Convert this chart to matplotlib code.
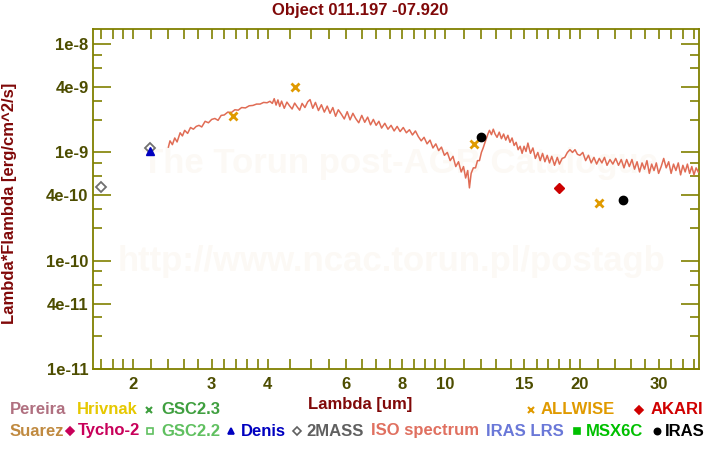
import numpy as np
import matplotlib
matplotlib.use("Agg")
import matplotlib.pyplot as plt
from matplotlib.lines import Line2D

plt.rcParams['font.family'] = ['Liberation Sans', 'DejaVu Sans']
plt.rcParams['font.weight'] = 'bold'

title = "Object 011.197 -07.920"

# ISO spectrum: wavelength [um], Lambda*Flambda [1e-9 erg/cm^2/s]
iso_wl = [2.40, 2.42, 2.45, 2.48, 2.51, 2.55, 2.58, 2.61, 2.65, 2.69,
          2.73, 2.77, 2.81, 2.85, 2.90, 2.95, 3.00, 3.05, 3.10, 3.15,
          3.20, 3.26, 3.32, 3.38, 3.44, 3.50, 3.57, 3.64, 3.71, 3.78,
          3.85, 3.92, 3.99, 4.05, 4.10, 4.14, 4.18, 4.22, 4.26, 4.30,
          4.36, 4.42, 4.48, 4.54, 4.60, 4.66, 4.72, 4.78, 4.85, 4.92,
          4.98, 5.05, 5.12, 5.20, 5.28, 5.36, 5.44, 5.52, 5.60, 5.68,
          5.76, 5.85, 5.94, 6.03, 6.12, 6.21, 6.30, 6.40, 6.50, 6.60,
          6.70, 6.80, 6.90, 7.00, 7.10, 7.20, 7.32, 7.44, 7.56, 7.68,
          7.80, 7.92, 8.05, 8.18, 8.31, 8.44, 8.57,
          8.70, 8.83, 8.96, 9.10, 9.24, 9.38, 9.52, 9.66, 9.80, 9.95,
          10.10, 10.25, 10.40, 10.55, 10.70, 10.85, 10.98, 11.10, 11.22, 11.32,
          11.42, 11.55, 11.68, 11.80, 11.92, 12.04, 12.15, 12.25, 12.35, 12.45,
          12.55, 12.68, 12.80, 12.92, 13.05, 13.20, 13.35, 13.50, 13.65, 13.80,
          13.95, 14.10, 14.25, 14.40, 14.55, 14.70, 14.85, 15.00, 15.15, 15.30,
          15.50, 15.70, 15.90, 16.10, 16.30, 16.50, 16.70, 16.90, 17.10, 17.30,
          17.55, 17.80, 18.00, 18.25, 18.50, 18.75, 19.00, 19.25, 19.50, 19.75,
          20.00, 20.30, 20.60, 20.90, 21.20, 21.50, 21.80, 22.10, 22.40, 22.70,
          23.00, 23.35, 23.70, 24.05, 24.40, 24.75, 25.10, 25.45, 25.80, 26.15,
          26.50, 26.85, 27.20, 27.55, 27.90, 28.25, 28.60, 28.95, 29.30, 29.65,
          30.00, 30.40, 30.80, 31.20, 31.60, 32.00, 32.40, 32.80, 33.20, 33.60,
          34.00, 34.40, 34.80, 35.20, 35.60, 36.00, 36.40, 36.80]
iso_flux = [1.12, 1.28, 1.18, 1.36, 1.25, 1.52, 1.42, 1.60, 1.50, 1.70,
            1.64, 1.74, 1.78, 1.72, 1.94, 1.88, 2.02, 2.06, 1.98, 2.20,
            2.22, 2.36, 2.34, 2.48, 2.46, 2.60, 2.58, 2.70, 2.72, 2.80,
            2.80, 2.90, 2.88, 2.97, 2.84, 3.14, 2.74, 3.06, 2.66, 2.98,
            2.56, 2.92, 2.70, 2.52, 2.86, 2.64, 2.46, 2.84, 2.60, 2.94,
            3.08, 2.56, 2.90, 2.44, 2.76, 2.36, 2.68, 2.30, 2.60, 2.16,
            2.48, 2.26, 2.04, 2.38, 2.00, 2.30, 2.06, 1.88, 2.20, 1.90,
            2.12, 1.80, 2.02, 1.78, 1.94, 1.68, 1.86, 1.64, 1.78, 1.58,
            1.74, 1.56, 1.70, 1.52, 1.62, 1.45, 1.58,
            1.40, 1.28, 1.38, 1.20, 1.30, 1.10, 1.20, 1.04, 1.12, 0.94,
            1.00, 0.84, 0.92, 0.74, 0.82, 0.66, 0.74, 0.58, 0.68, 0.47,
            0.64, 0.72, 0.72, 0.84, 0.84, 1.00, 1.10, 1.22, 1.34, 1.48,
            1.60, 1.46, 1.64, 1.48, 1.38, 1.54, 1.34, 1.48, 1.30, 1.44,
            1.24, 1.36, 1.16, 1.24, 1.06, 1.14, 0.98, 1.14, 1.02, 1.22,
            0.98, 1.10, 0.88, 1.00, 0.84, 0.98, 0.82, 0.94, 0.80, 0.92,
            0.76, 0.90, 0.78, 0.88, 0.90, 1.00, 1.06, 1.00, 1.06, 0.96,
            0.94, 1.00, 0.84, 0.94, 0.80, 0.90, 0.78, 0.88, 0.80, 0.90,
            0.76, 0.86, 0.78, 0.88, 0.76, 0.86, 0.72, 0.86, 0.74, 0.86,
            0.70, 0.82, 0.66, 0.80, 0.70, 0.84, 0.64, 0.78, 0.68, 0.80,
            0.64, 0.74, 0.88, 0.72, 0.82, 0.64, 0.78, 0.68, 0.80, 0.62,
            0.76, 0.66, 0.78, 0.64, 0.74, 0.62, 0.72, 0.66]

# photometry [um], [erg/cm^2/s]
allwise_wl = [3.35, 4.6, 11.56, 22.1]
allwise_flux = [2.18e-9, 4.0e-9, 1.19e-9, 3.38e-10]
akari_wl = [18.0]
akari_flux = [4.65e-10]
iras_wl = [12.0, 25.0]
iras_flux = [1.38e-9, 3.62e-10]
denis_wl = [2.18]
denis_flux = [1.03e-9]
tmass_wl = [1.70, 2.18]
tmass_flux = [4.81e-10, 1.09e-9]

xticks = [2, 3, 4, 6, 8, 10, 15, 20, 30]
xminor = [1.7, 1.8, 1.9, 2.2, 2.4, 2.6, 2.8, 3.2, 3.4, 3.6, 3.8, 4.5, 5, 5.5,
          6.5, 7, 7.5, 8.5, 9, 9.5, 11, 12, 13, 14, 16, 17, 18, 19,
          22, 24, 26, 28, 32, 34, 36]
yticks = [1e-11, 4e-11, 1e-10, 4e-10, 1e-9, 4e-9, 1e-8]
ylabels = ['1e-11', '4e-11', '1e-10', '4e-10', '1e-9', '4e-9', '1e-8']
yminor = [m * 10.0 ** e for e in (-11, -10, -9) for m in (2, 3, 6, 8)]

# legend rows: label, colour, marker
legend_row1 = [("Pereira", '#b07080', None), ("Hrivnak", '#e6c800', None),
               ("GSC2.3", '#3f9f3f', 'x'), ("ALLWISE", '#e09a00', 'x'),
               ("AKARI", '#d00000', 'D')]
legend_row2 = [("Suarez", '#c08a40', None), ("Tycho-2", '#c8005a', 'D'),
               ("GSC2.2", '#60c060', 's_open'), ("Denis", '#0000c0', '^'),
               ("2MASS", '#606060', 'D_open'), ("ISO spectrum", '#e07060', None),
               ("IRAS LRS", '#6a78d8', None), ("MSX6C", '#00c000', 's'),
               ("IRAS", '#000000', 'o')]

W, H = 720, 450
fig = plt.figure(figsize=(7.2, 4.5), dpi=100)
ax = fig.add_axes([92.7 / W, 1 - 368.7 / H, (699.3 - 92.7) / W, (368.7 - 29.3) / H])

olive = '#808000'
dark_olive = '#4d4d00'
dark_red = '#800808'

ax.plot(iso_wl, np.array(iso_flux) * 1e-9, color='#e06c55', lw=1.1, zorder=3)
ax.plot(allwise_wl, allwise_flux, 'x', color='#e09a00', ms=6, mew=2, zorder=4)
ax.plot(akari_wl, akari_flux, 'D', color='#cc0000', ms=5.5, zorder=4)
ax.plot(iras_wl, iras_flux, 'o', color='black', ms=6, zorder=4)
ax.plot(tmass_wl, tmass_flux, 'D', mfc='none', mec='#707070', ms=5, mew=1.3, zorder=4)
ax.plot(denis_wl, denis_flux, '^', color='#0000c0', ms=5.5, zorder=5)

ax.set_xscale('log')
ax.set_yscale('log')
ax.set_xlim(1.625, 37.0)
ax.set_ylim(1e-11, 1.376e-8)
ax.set_xticks(xticks)
ax.set_xticklabels([str(t) for t in xticks])
ax.set_xticks(xminor, minor=True)
ax.set_xticklabels([], minor=True)
ax.set_yticks(yticks)
ax.set_yticklabels(ylabels)
ax.set_yticks(yminor, minor=True)
ax.set_yticklabels([], minor=True)

for s in ax.spines.values():
    s.set_color(olive)
    s.set_linewidth(1.3)
ax.tick_params(which='both', direction='in', top=True, right=True,
               color=olive, labelcolor=dark_olive, labelsize=12, width=1.2)
ax.tick_params(axis='y', which='major', length=13, pad=3)
ax.tick_params(axis='y', which='minor', length=6.5)
ax.tick_params(axis='x', which='both', length=7, pad=6)

# faint watermark
ax.text(0.5066, 0.606, "The Torun post-AGB Catalogue", transform=ax.transAxes,
        ha='center', va='center', fontsize=25, color='#fcf9f5', zorder=0)
ax.text(0.4918, 0.3144, "http://www.ncac.torun.pl/postagb", transform=ax.transAxes,
        ha='center', va='center', fontsize=25, color='#fcf9f5', zorder=0)

fig.text(0.5, 1 - 11 / H, title, ha='center', va='center', fontsize=12, color=dark_red)
fig.text(0.5, 1 - 404 / H, "Lambda [um]", ha='center', va='center', fontsize=12, color=dark_red)
fig.text(10 / W, 1 - 203 / H, "Lambda*Flambda [erg/cm^2/s]", rotation=90,
         ha='center', va='center', fontsize=12, color=dark_red)


def legend_item(text_x, y, label, color, marker, marker_x):
    yf = 1 - y / H
    if marker is not None:
        m = marker.split('_')[0]
        filled = not marker.endswith('_open')
        ms = {'x': 4.5, 'D': 4.5, 's': 4.0, '^': 4.5, 'o': 4.5}[m]
        fig.add_artist(Line2D([marker_x / W], [yf], transform=fig.transFigure,
                              marker=m, linestyle='none', ms=ms,
                              color=color, mfc=color if filled else 'none',
                              mec=color, mew=1.5 if m == 'x' else 1.2))
    fig.text(text_x / W, yf, label, ha='left', va='center', fontsize=12, color=color)


row1_x = [(10, None), (77, None), (161, 149), (541, 531), (651, 639)]
row2_x = [(10, None), (78, 70), (161, 150), (241, 231), (306, 297),
          (371, None), (486, None), (586, 577), (665, 657)]
for (lab, col, mk), (tx, mx) in zip(legend_row1, row1_x):
    legend_item(tx, 410, lab, col, mk, mx)
for (lab, col, mk), (tx, mx) in zip(legend_row2, row2_x):
    legend_item(tx, 431, lab, col, mk, mx)

fig.savefig('out.png', dpi=100)
